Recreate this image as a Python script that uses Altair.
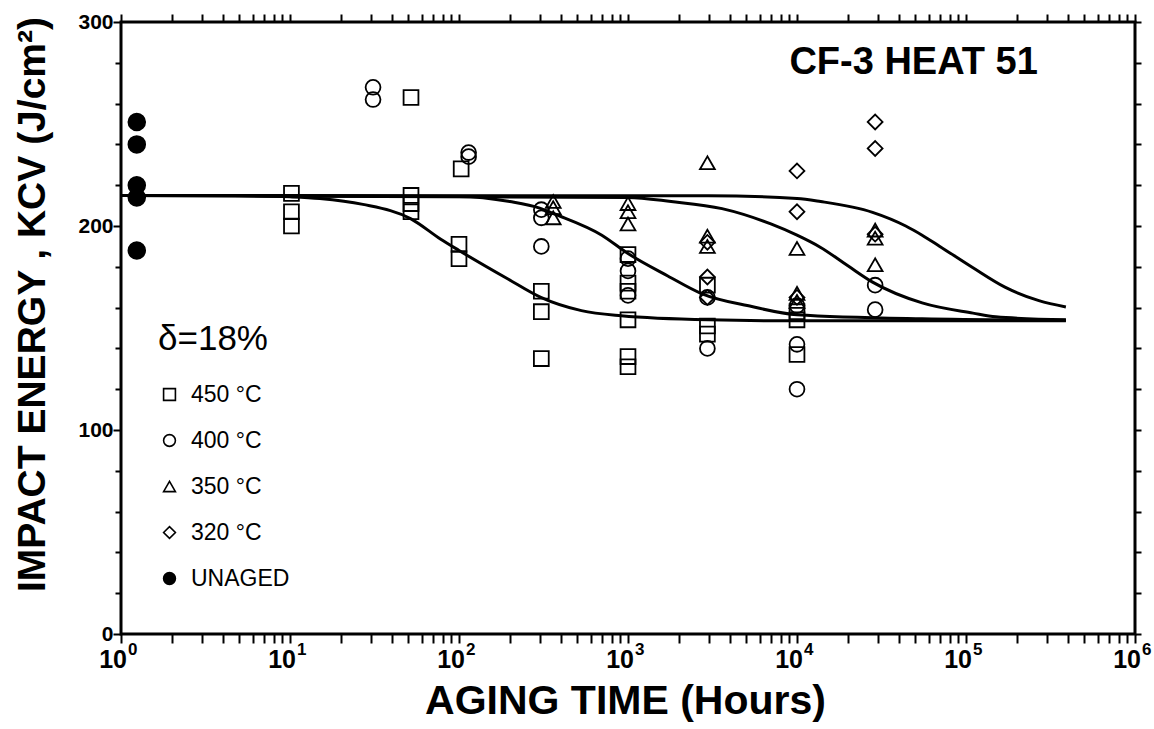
import altair as alt
import pandas as pd

FONT = "Liberation Sans"

# ---------------- data ----------------
series_names = ["450 °C", "400 °C", "350 °C", "320 °C", "UNAGED"]
series_shapes = ["square", "circle", "triangle-up", "diamond", "circle"]
series_fills = ["transparent", "transparent", "transparent", "transparent", "black"]
series_strokes = ["black", "black", "black", "black", "black"]

sq450_t = [10.2, 10.2, 10.2, 52, 52, 52, 52, 103, 100, 100, 307, 307, 307,
           1000, 1000, 1000, 1000, 1000, 1000, 2950, 2950, 2950, 10000, 10000, 10000]
sq450_kcv = [216, 207, 200, 263, 215, 211, 207, 228, 191, 184, 168, 158, 135,
             186, 172, 168, 154, 136, 131, 171, 151, 147, 158, 154, 137]

ci400_t = [31, 31, 114, 114, 307, 307, 307, 1000, 1000, 1000, 2950, 2950,
           10000, 10000, 10000, 29000, 29000]
ci400_kcv = [268, 262, 236, 234, 208, 204, 190, 184, 178, 166, 165, 140,
             161, 142, 120, 171, 159]

tr350_t = [361, 361, 361, 1000, 1000, 1000, 2950, 2950, 2950,
           10000, 10000, 10000, 29000, 29000, 29000]
tr350_kcv = [212, 209, 204, 211, 207, 201, 231, 195, 190,
             189, 167, 163, 198, 194, 181]

di320_t = [2950, 2950, 2950, 10000, 10000, 10000, 29000, 29000, 29000]
di320_kcv = [192, 175, 165, 227, 207, 165, 251, 238, 196]

unaged_t = [1.24, 1.24, 1.24, 1.24, 1.24]
unaged_kcv = [251, 240, 220, 214, 188]

# fitted curves
c450_t = [1, 5, 10, 15, 27, 52, 78, 100, 195, 305, 530, 910, 3000, 10000, 100000, 390000]
c450_kcv = [215, 214.8, 214.3, 213.5, 210.6, 203.5, 193.5, 188, 174, 165, 158.5, 156, 154, 153.5, 153.5, 153.5]
c400_t = [1, 100, 200, 300, 365, 700, 1000, 1720, 2700, 5400, 10000, 55000, 390000]
c400_kcv = [215, 214.5, 212, 208.8, 206, 195.5, 186.5, 175.5, 167, 160.5, 156.5, 154.5, 153.8]
c350_t = [1, 1000, 1800, 3600, 7000, 10000, 13800, 20000, 28000, 55000, 110000, 150000, 390000]
c350_kcv = [215, 214, 212, 208.5, 201, 195.5, 189.5, 180.5, 172.5, 162.3, 157.3, 155.5, 154]
c320_t = [1, 3000, 10000, 13800, 28000, 44000, 55000, 70000, 110000, 170000, 270000, 390000]
c320_kcv = [215, 214.8, 213.5, 212, 206.7, 200, 195.5, 190, 179.5, 170, 163.4, 160.3]

decades = [1, 10, 100, 1000, 10000, 100000, 1000000]
decade_exp = ["0", "1", "2", "3", "4", "5", "6"]
x_ticks = [k * 10 ** n for n in range(6) for k in range(1, 10)] + [10 ** 6]
y_ticks = list(range(0, 301, 20))

annot_text = ["CF-3 HEAT 51"]
annot_t = [49000]
annot_kcv = [280]

legend_title = "δ=18%"

# ---------------- tables ----------------
pts = []
for name, ts, ks in [(series_names[0], sq450_t, sq450_kcv),
                     (series_names[1], ci400_t, ci400_kcv),
                     (series_names[2], tr350_t, tr350_kcv),
                     (series_names[3], di320_t, di320_kcv)]:
    for t, k in zip(ts, ks):
        pts.append({"series": name, "t": t, "kcv": k})
pts_df = pd.DataFrame(pts)
una_df = pd.DataFrame({"series": [series_names[4]] * len(unaged_t), "t": unaged_t, "kcv": unaged_kcv})

crv = []
for name, ts, ks in [("450", c450_t, c450_kcv), ("400", c400_t, c400_kcv),
                     ("350", c350_t, c350_kcv), ("320", c320_t, c320_kcv)]:
    for t, k in zip(ts, ks):
        crv.append({"curve": name, "t": t, "kcv": k})
crv_df = pd.DataFrame(crv)

lab_df = pd.DataFrame({"t": decades, "kcv": [0] * len(decades),
                       "base": ["10"] * len(decades), "exp": decade_exp})
ann_df = pd.DataFrame({"t": annot_t, "kcv": annot_kcv, "txt": annot_text})

W, H = 1014, 612
xscale = alt.Scale(type="log", domain=[1, 1e6], nice=False)
yscale = alt.Scale(domain=[0, 300], nice=False)
shape_scale = alt.Scale(domain=series_names, range=series_shapes)
fill_scale = alt.Scale(domain=series_names, range=series_fills)
stroke_scale = alt.Scale(domain=series_names, range=series_strokes)

bottom_axis = alt.Axis(orient="bottom", values=x_ticks, labels=False, ticks=True,
                       tickSize=9, tickWidth=2, tickColor="black", domain=False, grid=False,
                       title="AGING TIME (Hours)", titleFont=FONT, titleFontSize=41,
                       titleFontWeight="bold", titleColor="black", titleX=504, titleY=67,
                       titleAlign="center", titleBaseline="middle")
left_axis = alt.Axis(orient="left", values=y_ticks,
                     labelExpr="datum.value % 100 == 0 ? datum.label : ''",
                     labelFont=FONT, labelFontSize=21, labelFontWeight="bold", labelColor="black",
                     labelPadding=0,
                     tickSize={"condition": {"test": "datum.value % 100 == 0", "value": 8}, "value": 6},
                     tickWidth=2, tickColor="black", domain=False, grid=False,
                     title="IMPACT ENERGY , KCV (J/cm²)", titleFont=FONT, titleFontSize=39,
                     titleFontWeight="bold", titleColor="black", titleAngle=270,
                     titleX=-89, titleY=282, titleAlign="center", titleBaseline="middle")
top_axis = alt.Axis(orient="top", values=x_ticks, labels=False, ticks=True, tickSize=8,
                    tickWidth=2, tickColor="black", domain=False, grid=False, title=None)
right_axis = alt.Axis(orient="right", values=y_ticks, labels=False, ticks=True, tickSize=6,
                      tickWidth=2, tickColor="black", domain=False, grid=False, title=None)

curves = alt.Chart(crv_df).mark_line(color="black", strokeWidth=3, interpolate="monotone").encode(
    x=alt.X("t:Q", scale=xscale, axis=bottom_axis),
    y=alt.Y("kcv:Q", scale=yscale, axis=left_axis),
    detail="curve:N",
)

legend = alt.Legend(orient="none", legendX=37, legendY=300, title=legend_title,
                    titleFont=FONT, titleFontSize=35, titleFontWeight="normal", titleColor="black",
                    titlePadding=26, labelFont=FONT, labelFontSize=23, labelColor="black",
                    symbolSize=140, symbolStrokeWidth=1.6,
                    rowPadding=22, labelOffset=10)

def enc(chart, xaxis, yaxis):
    return chart.encode(
        x=alt.X("t:Q", scale=xscale, axis=xaxis),
        y=alt.Y("kcv:Q", scale=yscale, axis=yaxis),
        shape=alt.Shape("series:N", scale=shape_scale, legend=legend),
        fill=alt.Fill("series:N", scale=fill_scale, legend=legend),
        stroke=alt.Stroke("series:N", scale=stroke_scale, legend=legend),
    )

points = enc(alt.Chart(pts_df).mark_point(filled=True, strokeWidth=1.8, opacity=1, size=220),
             top_axis, right_axis)
unaged = enc(alt.Chart(una_df).mark_point(filled=True, strokeWidth=1.8, opacity=1, size=280),
             None, None)

lab_base = alt.Chart(lab_df).mark_text(font=FONT, fontSize=25, fontWeight="bold", color="black",
                                       align="right", baseline="middle", dx=6, dy=26).encode(
    x=alt.X("t:Q", scale=xscale, axis=None),
    y=alt.Y("kcv:Q", scale=yscale, axis=None),
    text="base:N",
)
lab_exp = alt.Chart(lab_df).mark_text(font=FONT, fontSize=17, fontWeight="bold", color="black",
                                      align="left", baseline="middle", dx=7, dy=16).encode(
    x=alt.X("t:Q", scale=xscale, axis=None),
    y=alt.Y("kcv:Q", scale=yscale, axis=None),
    text="exp:N",
)
annot = alt.Chart(ann_df).mark_text(font=FONT, fontSize=38, fontWeight="bold", color="black",
                                    align="center", baseline="middle").encode(
    x=alt.X("t:Q", scale=xscale, axis=None),
    y=alt.Y("kcv:Q", scale=yscale, axis=None),
    text="txt:N",
)

chart = alt.layer(curves, points, unaged, lab_base, lab_exp, annot).resolve_axis(
    x="independent", y="independent"
).properties(
    width=W, height=H,
    autosize=alt.AutoSizeParams(type="none"),
    padding={"left": 121, "top": 22, "right": 19, "bottom": 95},
    background="white",
).configure_view(stroke="black", strokeWidth=3)

chart.save("out.html", embed_options={"renderer": "svg", "actions": False})
